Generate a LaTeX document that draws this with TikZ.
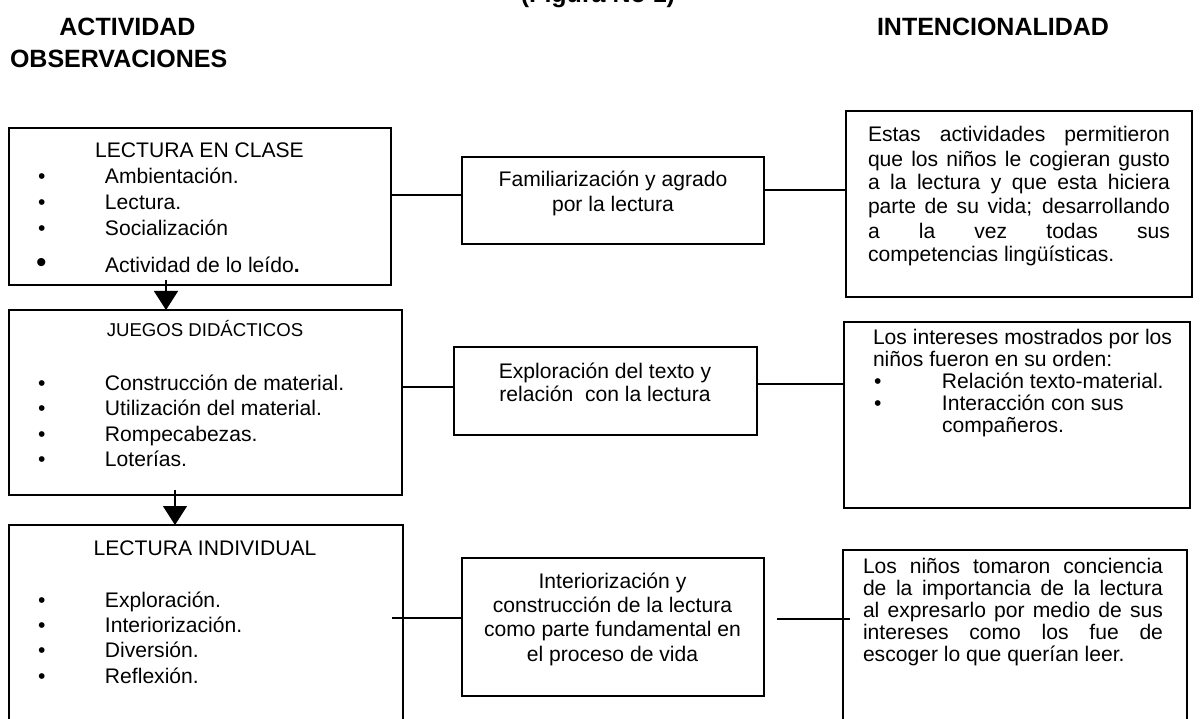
\documentclass[tikz,border=0pt]{standalone}
\usepackage{fontspec}
\setmainfont{Liberation Sans}
\usetikzlibrary{arrows.meta,fit}
\newcommand{\mybul}[1][67pt]{\makebox[#1][l]{•}}
\begin{document}
\begin{tikzpicture}[x=1pt,y=-1pt,
  box/.style={draw, line width=1.6pt, inner sep=0pt, outer sep=0pt},
  txt/.style={inner sep=0pt, outer sep=0pt, font={\fontsize{21.1}{25.5}\selectfont}, align=left},
  ctxt/.style={inner sep=0pt, outer sep=0pt, font={\fontsize{21.1}{24.5}\selectfont}, align=center},
  hdr/.style={inner sep=0pt, outer sep=0pt, font={\fontsize{25}{30}\selectfont\bfseries}},
  conn/.style={line width=1.3pt},
  arr/.style={line width=1.3pt, -{Triangle[length=19pt,width=24pt]}}
]
\useasboundingbox (0,0) rectangle (1202,719);
\fill[white] (0,0) rectangle (1202,719);
\clip (0,0) rectangle (1202,719);

% headers
\node[hdr, anchor=base] (fig) at (598,3) {(Figura No 1)};
\node[hdr, anchor=base] (act) at (127.5,36) {ACTIVIDAD};
\node[hdr, anchor=base west] (obs) at (10,68) {OBSERVACIONES};
\node[hdr, anchor=base] (int) at (993,36) {INTENCIONALIDAD};

% boxes
\node[box, fit={(9,128) (391,285)}] (b1) {};
\node[box, fit={(9,310) (402,495)}] (b2) {};
\node[box, fit={(9,525) (403,745)}] (b3) {};
\node[box, fit={(462,157) (764,244)}] (m1) {};
\node[box, fit={(454,347) (757,435)}] (m2) {};
\node[box, fit={(462,558) (764,696)}] (m3) {};
\node[box, fit={(846,111) (1192,297)}] (r1) {};
\node[box, fit={(844,322) (1190,508)}] (r2) {};
\node[box, fit={(843,550) (1187,745)}] (r3) {};

% left column texts (anchor = baseline of last line)
\node[txt, anchor=base] (b1t) at (199.5,158) {LECTURA EN CLASE};
\node[txt, anchor=base west, font={\fontsize{21.1}{26}\selectfont}] (b1l) at (38,273) {\mybul Ambientación.\\ \mybul Lectura.\\ \mybul Socialización\\[11pt] \makebox[67pt][l]{\hspace*{-2pt}\fontsize{30}{30}\selectfont •}Actividad de lo leído{\bfseries .}};

\node[txt, anchor=base, font={\fontsize{18.6}{22}\selectfont}] (b2t) at (205,336) {JUEGOS DIDÁCTICOS};
\node[txt, anchor=base west] (b2l) at (38,466.5) {\mybul Construcción de material.\\ \mybul Utilización del material.\\ \mybul Rompecabezas.\\ \mybul Loterías.};

\node[txt, anchor=base] (b3t) at (205,555) {LECTURA INDIVIDUAL};
\node[txt, anchor=base west, font={\fontsize{21.1}{25.3}\selectfont}] (b3l) at (38,683) {\mybul Exploración.\\ \mybul Interiorización.\\ \mybul Diversión.\\ \mybul Reflexión.};

% middle texts
\node[ctxt, anchor=base, font={\fontsize{21.1}{25}\selectfont}] (m1t) at (613,212) {Familiarización y agrado\\por la lectura};
\node[ctxt, anchor=base, font={\fontsize{21.1}{23}\selectfont}] (m2t) at (605,401) {Exploración del texto y\\relación\ \ con la lectura};
\node[ctxt, anchor=base, font={\fontsize{21.1}{24.3}\selectfont}] (m3t) at (612.5,661) {Interiorización y\\construcción de la lectura\\como parte fundamental en\\el proceso de vida};

% right texts
\node[txt, anchor=base west, font={\fontsize{21.1}{24}\selectfont}] (r1t) at (868,262) {\makebox[302pt][s]{Estas actividades permitieron}\\
\makebox[302pt][s]{que los niños le cogieran gusto}\\
\makebox[302pt][s]{a la lectura y que esta hiciera}\\
\makebox[302pt][s]{parte de su vida; desarrollando}\\
\makebox[302pt][s]{a la vez todas sus}\\
competencias lingüísticas.};

\node[txt, anchor=base west, font={\fontsize{21.1}{21.8}\selectfont}] (r2t) at (873,432) {Los intereses mostrados por los\\
niños fueron en su orden:\\
\hspace*{1pt}\mybul[68pt]Relación texto-material.\\
\hspace*{1pt}\mybul[68pt]Interacción con sus\\
\hspace*{69pt}compañeros.};

\node[txt, anchor=base west, font={\fontsize{21.1}{22}\selectfont}] (r3t) at (863,661) {\makebox[300pt][s]{Los niños tomaron conciencia}\\
\makebox[300pt][s]{de la importancia de la lectura}\\
\makebox[300pt][s]{al expresarlo por medio de sus}\\
\makebox[300pt][s]{intereses como los fue de}\\
escoger lo que querían leer.};

% connectors
\coordinate (y1) at (0,195);
\draw[conn] (b1.east |- y1) -- (m1.west |- y1);
\coordinate (y2) at (0,190);
\draw[conn] (m1.east |- y2) -- (r1.west |- y2);
\coordinate (y3) at (0,387);
\draw[conn] (b2.east |- y3) -- (m2.west |- y3);
\coordinate (y4) at (0,384);
\draw[conn] (m2.east |- y4) -- (r2.west |- y4);
\coordinate (c5s) at (392,618);
\draw[conn] (c5s) -- (m3.west |- c5s);
\coordinate (c6s) at (777,619);
\coordinate (c6e) at (850,619);
\draw[conn] (c6s) -- (c6e);

% arrows
\coordinate (a1s) at (166,280);
\draw[arr] (a1s) -- (a1s |- b2.north);
\coordinate (a2s) at (175,490);
\draw[arr] (a2s) -- (a2s |- b3.north);
\end{tikzpicture}
\end{document}
